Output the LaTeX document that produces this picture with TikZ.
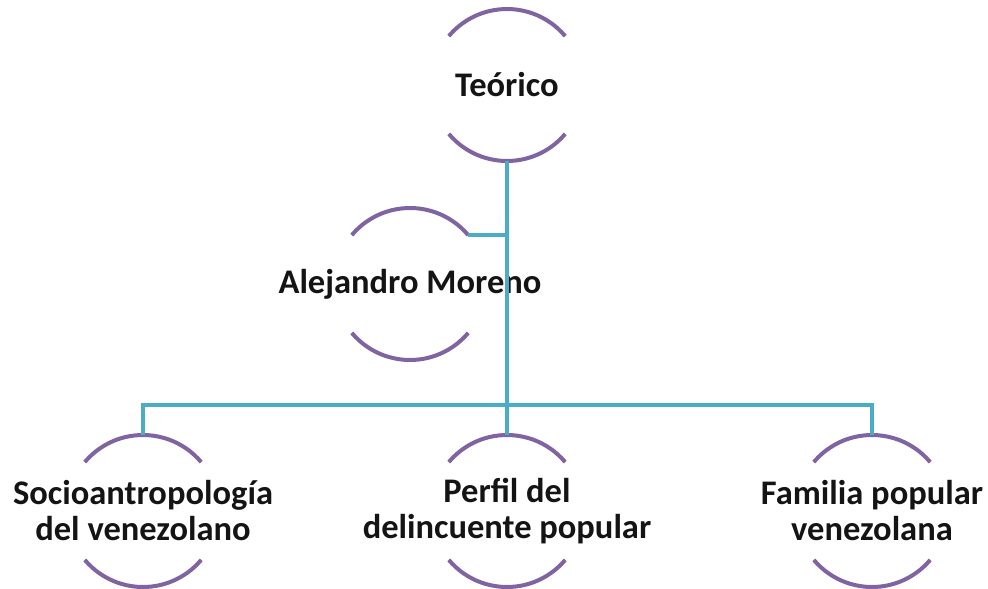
\documentclass[tikz,border=0pt]{standalone}
\usepackage{fontspec}
\setmainfont{Carlito}
\begin{document}
\begin{tikzpicture}[x=1pt,y=-1pt,
  ring/.style={circle,minimum size=152pt,inner sep=0pt,outer sep=0pt},
  arcst/.style={draw={rgb,255:red,128;green,100;blue,162},line width=4pt},
  conn/.style={draw={rgb,255:red,75;green,172;blue,198},line width=4pt},
  txt/.style={font=\bfseries\fontsize{34.5}{36}\selectfont,align=center,text=black!92,inner sep=0pt}]
\useasboundingbox (0,0) rectangle (988,589);
\node[ring] (teo) at (507,85) {};
\node[ring] (ale) at (410,284) {};
\node[ring] (soc) at (143,511) {};
\node[ring] (per) at (507,511) {};
\node[ring] (fam) at (872,511) {};
\foreach \n in {teo,ale,soc,per,fam}{
  \draw[arcst] (\n.40) arc[start angle=40,end angle=140,radius=76pt];
  \draw[arcst] (\n.220) arc[start angle=220,end angle=320,radius=76pt];
}
\node[txt] (teot) at (teo) {Teórico};
\node[txt] (alet) at (ale) {Alejandro Moreno};
\node[txt] (soct) at (soc) {Socioantropología\\del venezolano};
\node[txt] (pert) at (per) {Perfil del\\delincuente popular};
\node[txt] (famt) at (fam) {Familia popular\\venezolana};
\coordinate (j) at (507,405);
\draw[conn] (teo.south) -- (per.north);
\draw[conn] (ale.40) -- (ale.40 -| teo.south);
\draw[conn] (soc.north) |- (j) -| (fam.north);
\end{tikzpicture}
\end{document}
